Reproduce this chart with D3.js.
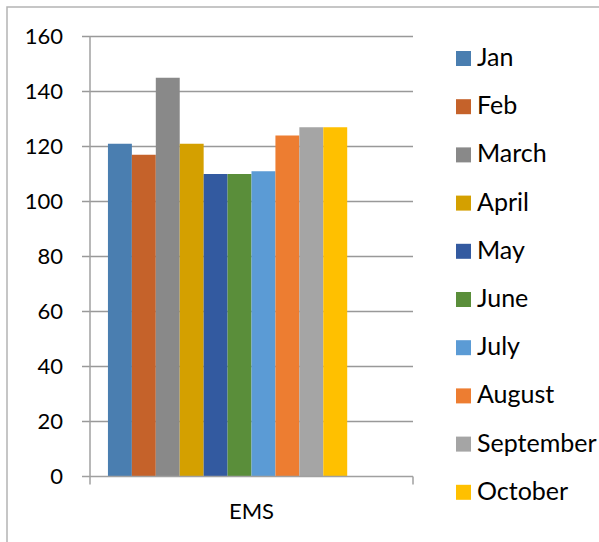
<!DOCTYPE html>
<html>
<head>
<meta charset="utf-8">
<script src="https://cdn.jsdelivr.net/npm/d3@7"></script>
<style>
  body { margin: 0; background: #fff; }
  text { font-family: Lato, "Open Sans", sans-serif; fill: #000; }
</style>
</head>
<body>
<div class="container"></div>
<script>
// chart values
var category = ["EMS"];
var months = ["Jan", "Feb", "March", "April", "May", "June", "July", "August", "September", "October"];
var values = [121, 117, 145, 121, 110, 110, 111, 124, 127, 127];
var colors = ["#4a7eb0", "#c5622a", "#898989", "#d4a000", "#335aa0", "#5a8e3a", "#5b9bd5", "#ed7d31", "#a5a5a5", "#ffc000"];
var yTicks = [0, 20, 40, 60, 80, 100, 120, 140, 160];

var width = 599,
    height = 542;

// plot area
var plotLeft = 90, plotRight = 413, plotTop = 36.5, plotBottom = 476.5;
var slots = 12; // the cluster keeps room for 12 series, only 10 are filled

var svg = d3.select(".container").append("svg")
    .attr("xmlns", "http://www.w3.org/2000/svg")
    .attr("width", width)
    .attr("height", height);

// outer frame (cut by the picture on right and bottom)
svg.append("rect")
    .attr("x", 7).attr("y", 7)
    .attr("width", 700).attr("height", 700)
    .style("fill", "none")
    .style("stroke", "#b4b4b4")
    .style("stroke-width", 1.5);

var y = d3.scaleLinear().domain([0, 160]).range([plotBottom, plotTop]);

var x0 = d3.scaleBand().domain(category).range([plotLeft, plotRight])
    .paddingInner(0).paddingOuter((13.5 / 12 - 1) / 2);

var x1 = d3.scaleBand().domain(d3.range(slots)).range([0, x0.bandwidth()]);

// gridlines
svg.selectAll(".grid")
    .data(yTicks.filter(function (d) { return d > 0; }))
    .enter().append("line")
    .attr("class", "grid")
    .attr("x1", plotLeft - 8).attr("x2", plotRight)
    .attr("y1", function (d) { return y(d); })
    .attr("y2", function (d) { return y(d); })
    .style("stroke", "#999")
    .style("stroke-width", 1.5);

// y labels
svg.selectAll(".ylab")
    .data(yTicks)
    .enter().append("text")
    .attr("class", "ylab")
    .attr("x", 63)
    .attr("y", function (d) { return y(d); })
    .attr("dy", "0.36em")
    .attr("text-anchor", "end")
    .style("font-size", "22px")
    .text(function (d) { return d; });

// bars
svg.selectAll(".bar")
    .data(values)
    .enter().append("rect")
    .attr("class", "bar")
    .attr("x", function (d, i) { return x0("EMS") + x1(i); })
    .attr("width", x1.bandwidth())
    .attr("y", function (d) { return y(d); })
    .attr("height", function (d) { return y(0) - y(d); })
    .style("fill", function (d, i) { return colors[i]; });

// axes lines
var axisColor = "#a0a0a0";
svg.append("line")
    .attr("x1", plotLeft - 8).attr("x2", plotRight)
    .attr("y1", y(0)).attr("y2", y(0))
    .style("stroke", axisColor).style("stroke-width", 1.5);
svg.append("line")
    .attr("x1", plotLeft).attr("x2", plotLeft)
    .attr("y1", plotTop).attr("y2", plotBottom + 8)
    .style("stroke", axisColor).style("stroke-width", 1.5);
svg.append("line")
    .attr("x1", plotRight).attr("x2", plotRight)
    .attr("y1", plotBottom).attr("y2", plotBottom + 8)
    .style("stroke", axisColor).style("stroke-width", 1.5);

// category label
svg.append("text")
    .attr("x", x0("EMS") + x0.bandwidth() / 2)
    .attr("y", 519)
    .attr("text-anchor", "middle")
    .style("font-size", "22px")
    .text(category[0]);

// legend
var legend = svg.selectAll(".legend")
    .data(months)
    .enter().append("g")
    .attr("class", "legend")
    .attr("transform", function (d, i) { return "translate(456," + (51 + i * 48.2) + ")"; });

legend.append("rect")
    .attr("width", 15).attr("height", 15)
    .style("fill", function (d, i) { return colors[i]; });

legend.append("text")
    .attr("x", 21)
    .attr("y", 15)
    .style("font-size", "25px")
    .text(function (d) { return d; });
</script>
</body>
</html>
